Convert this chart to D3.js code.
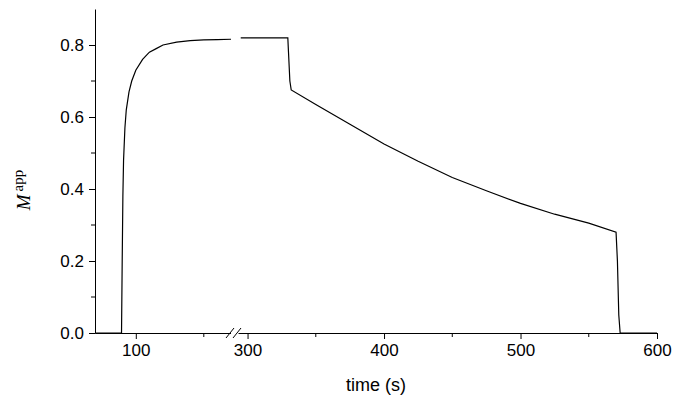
<html>
<head>
<meta charset="utf-8">
<script src="https://d3js.org/d3.v7.min.js"></script>
<style>
html, body { margin: 0; background: #fff; font-family: Arial, Helvetica, sans-serif; }
.axis text { font-size: 17px; fill: #000; font-family: Arial, 'Liberation Sans', sans-serif; }
.line { fill: none; stroke: #000; stroke-width: 1.2px; }
</style>
</head>
<body>
<svg id="chart" width="673" height="401"></svg>
<script>
// left segment (before break)
var leftT = [70, 89.5, 90, 90.5, 91, 92, 93, 95, 97, 100, 105, 110, 115, 120, 130, 140, 150, 160, 170];
var leftM = [0, 0, 0.2, 0.38, 0.48, 0.57, 0.62, 0.67, 0.7, 0.73, 0.76, 0.78, 0.79, 0.8, 0.808, 0.812, 0.814, 0.815, 0.816];
// right segment (after break)
var rightT = [295, 310, 329.5, 330, 331, 332, 350, 375, 400, 425, 450, 475, 500, 525, 550, 570, 571, 572, 573, 600];
var rightM = [0.82, 0.82, 0.82, 0.78, 0.7, 0.675, 0.635, 0.58, 0.525, 0.477, 0.432, 0.395, 0.36, 0.33, 0.305, 0.28, 0.2, 0.05, 0, 0];
var leftTicks = [100], leftMinor = [150];
var rightTicks = [300, 400, 500, 600], rightMinor = [350, 450, 550];
var yTicks = [0, 0.2, 0.4, 0.6, 0.8], yMinor = [0.1, 0.3, 0.5, 0.7];

var svg = d3.select("#chart");
var x0 = 95, yBase = 333;
var xl = d3.scaleLinear().domain([70, 170]).range([x0, 231]);
var xr = d3.scaleLinear().domain([293, 600]).range([238, 657]);
var y = d3.scaleLinear().domain([0, 0.9]).range([yBase, 9]);

function drawLine(ts, ms, sx) {
	svg.append("path").attr("class", "line")
		.datum(d3.zip(ts, ms))
		.attr("d", d3.line().x(function (d) { return sx(d[0]); }).y(function (d) { return y(d[1]); }));
}
drawLine(leftT, leftM, xl);
drawLine(rightT, rightM, xr);

// x axes
function xAxis(sx, ticks, minor) {
	var g = svg.append("g").attr("class", "axis").attr("transform", "translate(0," + yBase + ")");
	g.call(d3.axisBottom(sx).tickValues(ticks).tickSize(6).tickSizeOuter(0).tickPadding(5));
	g.select(".domain").attr("stroke", "#000");
	g.selectAll(".tick line").attr("stroke", "#000");
	g.selectAll(".minor").data(minor).enter().append("line")
		.attr("x1", sx).attr("x2", sx).attr("y1", 0).attr("y2", 4).attr("stroke", "#000");
}
xAxis(xl, leftTicks, leftMinor);
xAxis(xr, rightTicks, rightMinor);
// fill axis between segments and break marks
svg.append("line").attr("x1", 231).attr("x2", 238).attr("y1", yBase).attr("y2", yBase).attr("stroke", "#fff").attr("stroke-width", 3);
[229, 236].forEach(function (bx) {
	svg.append("line").attr("x1", bx - 3).attr("y1", yBase + 5).attr("x2", bx + 5).attr("y2", yBase - 5).attr("stroke", "#000");
});

// y axis
var gy = svg.append("g").attr("class", "axis").attr("transform", "translate(" + x0 + ",0)");
gy.call(d3.axisLeft(y).tickValues(yTicks).tickFormat(d3.format(".1f")).tickSize(6).tickSizeOuter(0).tickPadding(5));
gy.select(".domain").attr("stroke", "#000");
gy.selectAll(".tick line").attr("stroke", "#000");
gy.selectAll(".minor").data(yMinor).enter().append("line")
	.attr("y1", y).attr("y2", y).attr("x1", 0).attr("x2", -4).attr("stroke", "#000");

// labels
svg.append("text").attr("x", 376).attr("y", 391).attr("text-anchor", "middle")
	.style("font-size", "18px").text("time (s)");
var yl = svg.append("text").attr("transform", "translate(30,190) rotate(-90)").attr("text-anchor", "middle")
	.style("font-family", "'Liberation Serif', 'DejaVu Serif', serif").style("font-size", "19px");
yl.append("tspan").style("font-style", "italic").text("M");
yl.append("tspan").attr("dy", -7).attr("dx", 3).style("font-size", "15px").text("app");
</script>
</body>
</html>
